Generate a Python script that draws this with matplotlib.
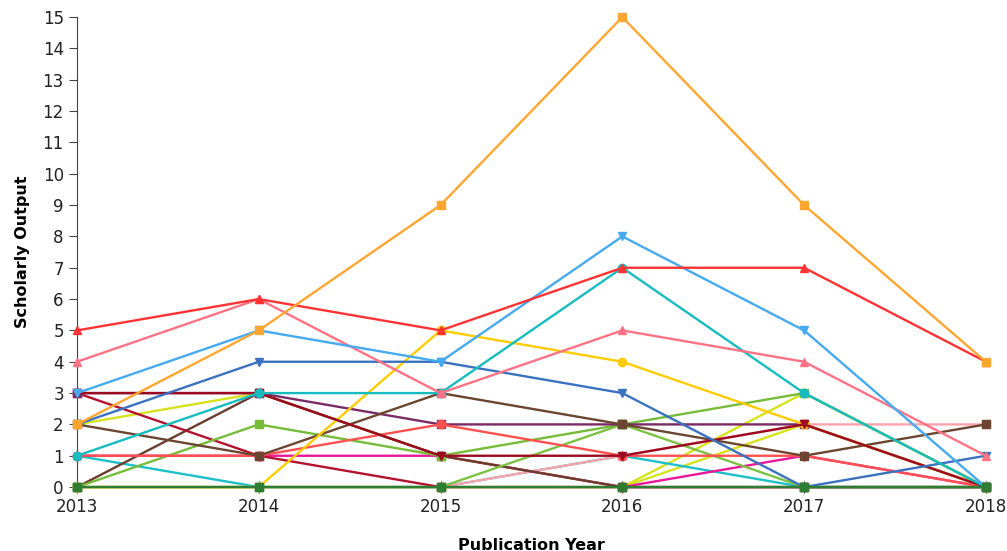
import numpy as np
import matplotlib
matplotlib.use("Agg")
from matplotlib import pyplot as plt

# publication years and scholarly output per series
years = [2013, 2014, 2015, 2016, 2017, 2018]

dkgreen   = [0, 0, 0, 0, 0, 0]
ltpink    = [0, 0, 0, 1, 2, 2]
magenta   = [1, 1, 1, 0, 1, 0]
brown2    = [0, 3, 1, 0, 0, 0]
teal2     = [1, 0, 0, 1, 0, 0]
crimson   = [3, 1, 0, 0, 0, 0]
green2    = [0, 0, 0, 2, 0, 0]
yelgreen2 = [0, 0, 0, 0, 3, 0]
yelgreen  = [2, 3, 1, 0, 2, 0]
green     = [0, 2, 1, 2, 3, 0]
purple    = [3, 3, 2, 2, 2, 0]
red2      = [1, 1, 2, 1, 1, 0]
brown     = [2, 1, 3, 2, 1, 2]
yellow    = [0, 0, 5, 4, 2, 0]
dkred     = [3, 3, 1, 1, 2, 0]
dkblue    = [2, 4, 4, 3, 0, 1]
teal      = [1, 3, 3, 7, 3, 0]
pink      = [4, 6, 3, 5, 4, 1]
ltblue    = [3, 5, 4, 8, 5, 0]
red       = [5, 6, 5, 7, 7, 4]
orange    = [2, 5, 9, 15, 9, 4]

# drawing order: first ones end up underneath
series = [
    (yelgreen, "#d6e31c", "o"),
    (yelgreen2, "#d6e31c", "o"),
    (teal2, "#1cc0c8", "o"),
    (ltpink, "#ffa3ad", "s"),
    (magenta, "#e8189a", "o"),
    (brown2, "#6b3d2e", "s"),
    (crimson, "#b3122f", "s"),
    (green2, "#7cc242", "s"),
    (green, "#76bc38", "s"),
    (purple, "#7a2a66", "s"),
    (red2, "#ff5050", "o"),
    (brown, "#6b4530", "s"),
    (yellow, "#ffcc00", "o"),
    (dkred, "#9c0a22", "v"),
    (dkblue, "#3a72c0", "v"),
    (teal, "#16bcc0", "o"),
    (pink, "#ff7385", "^"),
    (ltblue, "#45aaf0", "v"),
    (red, "#ff3333", "^"),
    (orange, "#ffa630", "s"),
    (dkgreen, "#2e7d32", "s"),
]

fig = plt.figure(figsize=(10.07, 5.51), dpi=100)
ax = fig.add_axes([0.0765, 0.116, 0.9025, 0.853])

for vals, col, mk in series:
    ax.plot(years, vals, color=col, marker=mk, markersize=6, linewidth=1.7,
            clip_on=False, zorder=3)

ax.set_xlim(2013, 2018)
ax.set_ylim(0, 15)
ax.set_xticks(years)
ax.set_yticks(range(0, 16))
ax.spines["top"].set_visible(False)
ax.spines["right"].set_visible(False)
ax.spines["left"].set_color("#444444")
ax.spines["bottom"].set_color("#444444")
ax.tick_params(axis="x", direction="inout", length=8, colors="#222222", labelsize=12)
ax.tick_params(axis="y", direction="out", length=6, colors="#444444",
               labelcolor="#222222", labelsize=12)
ax.set_xlabel("Publication Year", fontweight="bold", fontsize=11.5, labelpad=16)
ax.set_ylabel("Scholarly Output", fontweight="bold", fontsize=11.5, labelpad=9)

fig.savefig("out.png", dpi=100)
